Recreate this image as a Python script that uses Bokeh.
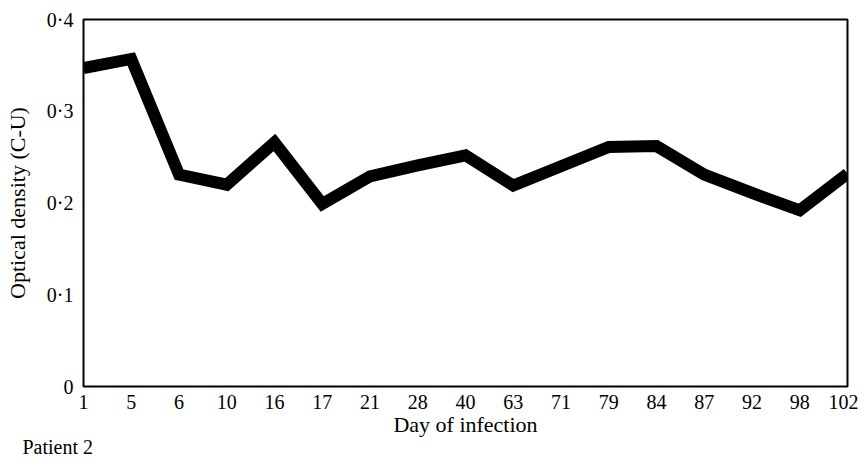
from bokeh.plotting import figure
from bokeh.models import Range1d, FixedTicker, Title
from bokeh.embed import file_html
from bokeh.resources import INLINE

days = ["1", "5", "6", "10", "16", "17", "21", "28", "40", "63", "71", "79", "84", "87", "92", "98", "102"]
optical_density = [0.347, 0.357, 0.231, 0.220, 0.266, 0.199, 0.229, 0.241, 0.252, 0.219,
                   0.240, 0.261, 0.262, 0.231, 0.211, 0.192, 0.232]
y_ticks = [0, 0.1, 0.2, 0.3, 0.4]
y_tick_labels = ["0", "0·1", "0·2", "0·3", "0·4"]

FONT = "Liberation Serif"
xs = list(range(len(days)))

p = figure(width=858, height=459, output_backend="svg", toolbar_location=None,
           x_range=Range1d(0, len(days) - 1), y_range=Range1d(0, 0.4),
           min_border_left=83, min_border_right=11, min_border_top=19, min_border_bottom=73)

p.line(xs, optical_density, line_color="black", line_width=12, line_join="miter")

p.xgrid.visible = False
p.ygrid.visible = False
p.outline_line_color = "black"
p.outline_line_width = 2
p.background_fill_color = "white"
p.border_fill_color = "white"

p.xaxis.ticker = FixedTicker(ticks=xs)
p.xaxis.major_label_overrides = {i: d for i, d in zip(xs, days)}
p.yaxis.ticker = FixedTicker(ticks=y_ticks)
p.yaxis.major_label_overrides = {t: l for t, l in zip(y_ticks, y_tick_labels)}

for ax in (p.xaxis[0], p.yaxis[0]):
    ax.axis_line_color = None
    ax.major_tick_line_color = None
    ax.minor_tick_line_color = None
    ax.major_tick_out = 0
    ax.major_tick_in = 0
    ax.major_label_text_font = FONT
    ax.major_label_text_font_size = "20px"
    ax.major_label_text_color = "black"
    ax.axis_label_text_font = FONT
    ax.axis_label_text_font_size = "22px"
    ax.axis_label_text_font_style = "normal"
    ax.axis_label_text_color = "black"

p.xaxis.axis_label = "Day of infection"
p.yaxis.axis_label = "Optical density (C-U)"
p.xaxis.major_label_standoff = 8
p.xaxis.axis_label_standoff = 0
p.yaxis.major_label_standoff = 10
p.yaxis.axis_label_standoff = 14

p.add_layout(Title(text="Patient 2", text_font=FONT, text_font_size="20px",
                   text_font_style="normal", text_color="black", align="left",
                   offset=-61, standoff=-12), "below")

open("out.html", "w").write(file_html(p, INLINE))
